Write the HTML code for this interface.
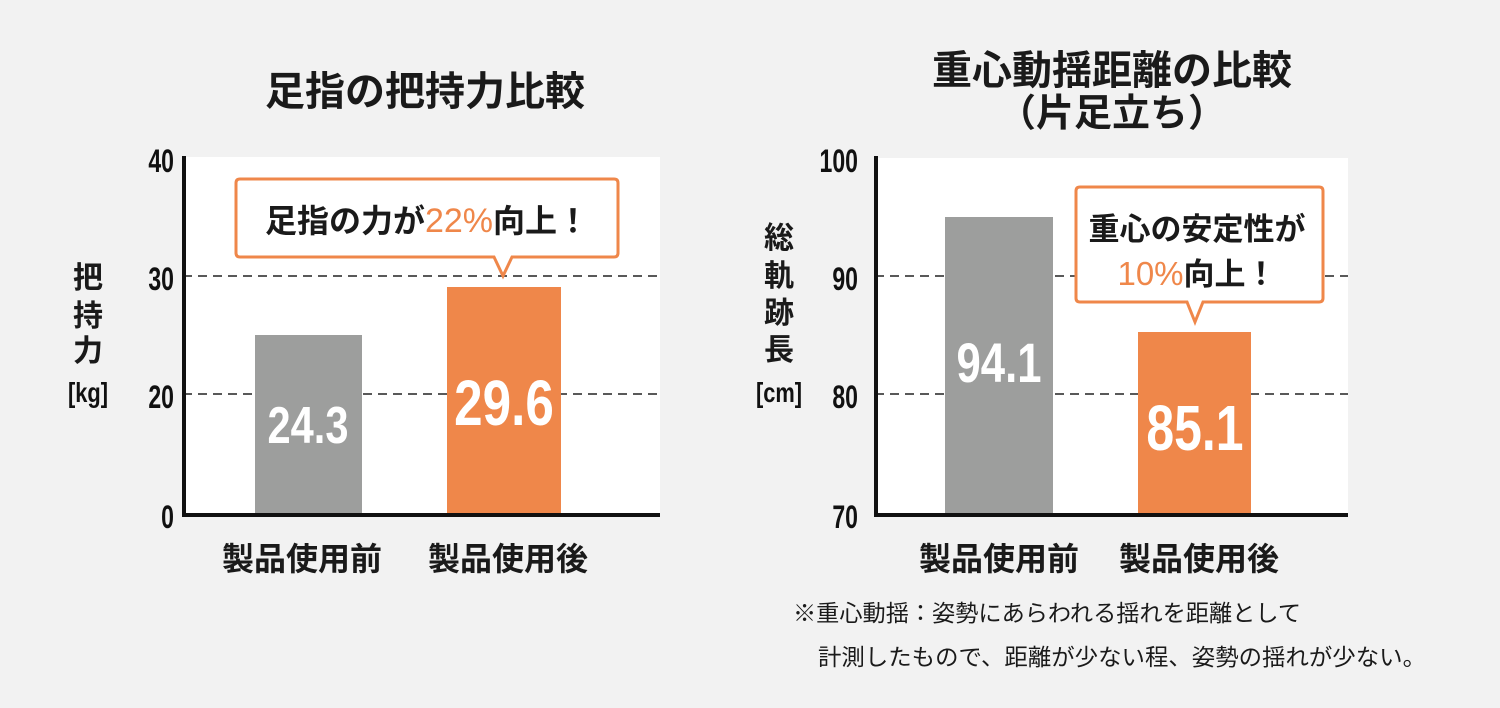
<!DOCTYPE html>
<html><head><meta charset="utf-8"><style>
html,body{margin:0;padding:0;background:#f2f2f2;}
svg{display:block}
.j{font-family:"Liberation Sans","Noto Sans CJK JP",sans-serif;font-weight:bold;fill:#1a1a1a}
.n{font-family:"Liberation Sans Narrow","Liberation Sans",sans-serif;font-weight:bold}
</style></head><body>
<svg width="1500" height="708" viewBox="0 0 1500 708" xmlns="http://www.w3.org/2000/svg">
<rect width="1500" height="708" fill="#f2f2f2"/>
<!-- left chart -->
<text class="j" x="425" y="105" font-size="40" text-anchor="middle">足指の把持力比較</text>
<rect x="183" y="157" width="477" height="358" fill="#fff"/>
<line x1="183" y1="276" x2="660" y2="276" stroke="#222" stroke-width="1.5" stroke-dasharray="9,6"/>
<line x1="183" y1="394" x2="660" y2="394" stroke="#222" stroke-width="1.5" stroke-dasharray="9,6"/>
<rect x="255" y="335" width="107" height="180" fill="#9d9e9d"/>
<rect x="447" y="287" width="114" height="228" fill="#ef874a"/>
<text class="n" x="308" y="443" font-size="52" fill="#fff" text-anchor="middle" transform="translate(308,0) scale(0.8,1) translate(-308,0)">24.3</text>
<text class="n" x="504" y="425" font-size="64" fill="#fff" text-anchor="middle" transform="translate(504,0) scale(0.8,1) translate(-504,0)">29.6</text>
<path d="M240,179 H614 Q618,179 618,183 V253 Q618,257 614,257 H512 L503,276 L494,257 H240 Q236,257 236,253 V183 Q236,179 240,179 Z" fill="#fff" stroke="#ef874a" stroke-width="3"/>
<text class="j" x="427" y="232" font-size="32" text-anchor="middle">足指の力が<tspan fill="#ef874a" font-weight="normal" font-size="34">22%</tspan>向上！</text>
<line x1="184" y1="156" x2="184" y2="517" stroke="#111" stroke-width="4"/>
<line x1="182" y1="515" x2="660" y2="515" stroke="#111" stroke-width="4"/>
<g class="n" font-size="32" fill="#111" text-anchor="end">
<text x="174" y="172" transform="translate(174,0) scale(0.72,1) translate(-174,0)">40</text>
<text x="174" y="290" transform="translate(174,0) scale(0.72,1) translate(-174,0)">30</text>
<text x="174" y="408" transform="translate(174,0) scale(0.72,1) translate(-174,0)">20</text>
<text x="174" y="528" transform="translate(174,0) scale(0.72,1) translate(-174,0)">0</text></g>
<g class="j" font-size="30" text-anchor="middle"><text x="88" y="288">把</text><text x="88" y="326">持</text><text x="88" y="361">力</text></g>
<text class="n" x="88" y="402" font-size="28" fill="#111" text-anchor="middle" transform="translate(88,0) scale(0.78,1) translate(-88,0)">[kg]</text>
<text class="j" x="302" y="570" font-size="32" text-anchor="middle">製品使用前</text>
<text class="j" x="508" y="570" font-size="32" text-anchor="middle">製品使用後</text>
<!-- right chart -->
<text class="j" x="1112" y="84" font-size="40" text-anchor="middle">重心動揺距離の比較</text>
<text class="j" x="1112" y="126" font-size="38" text-anchor="middle">（片足立ち）</text>
<rect x="875" y="158" width="473" height="357" fill="#fff"/>
<line x1="875" y1="276" x2="1348" y2="276" stroke="#222" stroke-width="1.5" stroke-dasharray="9,6"/>
<line x1="875" y1="394" x2="1348" y2="394" stroke="#222" stroke-width="1.5" stroke-dasharray="9,6"/>
<rect x="945" y="217" width="108" height="298" fill="#9d9e9d"/>
<rect x="1138" y="332" width="113" height="183" fill="#ef874a"/>
<text class="n" x="999" y="382" font-size="56" fill="#fff" text-anchor="middle" transform="translate(999,0) scale(0.78,1) translate(-999,0)">94.1</text>
<text class="n" x="1195" y="450" font-size="64" fill="#fff" text-anchor="middle" transform="translate(1195,0) scale(0.78,1) translate(-1195,0)">85.1</text>
<path d="M1080,187 H1319 Q1323,187 1323,191 V298 Q1323,302 1319,302 H1203 L1195,322 L1187,302 H1080 Q1076,302 1076,298 V191 Q1076,187 1080,187 Z" fill="#fff" stroke="#ef874a" stroke-width="3"/>
<text class="j" x="1197" y="240" font-size="31" text-anchor="middle">重心の安定性が</text>
<text class="j" x="1197" y="285" font-size="31" text-anchor="middle"><tspan fill="#ef874a" font-weight="normal" font-size="33">10%</tspan>向上！</text>
<line x1="876" y1="156" x2="876" y2="517" stroke="#111" stroke-width="4"/>
<line x1="874" y1="515" x2="1348" y2="515" stroke="#111" stroke-width="4"/>
<g class="n" font-size="32" fill="#111" text-anchor="end">
<text x="858" y="172" transform="translate(858,0) scale(0.72,1) translate(-858,0)">100</text>
<text x="858" y="290" transform="translate(858,0) scale(0.72,1) translate(-858,0)">90</text>
<text x="858" y="408" transform="translate(858,0) scale(0.72,1) translate(-858,0)">80</text>
<text x="858" y="528" transform="translate(858,0) scale(0.72,1) translate(-858,0)">70</text></g>
<g class="j" font-size="30" text-anchor="middle"><text x="779" y="248">総</text><text x="779" y="286">軌</text><text x="779" y="323">跡</text><text x="779" y="360">長</text></g>
<text class="n" x="779" y="402" font-size="28" fill="#111" text-anchor="middle" transform="translate(779,0) scale(0.78,1) translate(-779,0)">[cm]</text>
<text class="j" x="999" y="570" font-size="32" text-anchor="middle">製品使用前</text>
<text class="j" x="1199" y="570" font-size="32" text-anchor="middle">製品使用後</text>
<g font-family="'Liberation Sans','Noto Sans CJK JP',sans-serif" font-size="23" fill="#1a1a1a">
<text x="793" y="621" textLength="508" lengthAdjust="spacingAndGlyphs">※重心動揺：姿勢にあらわれる揺れを距離として</text>
<text x="818" y="665" textLength="608" lengthAdjust="spacingAndGlyphs">計測したもので、距離が少ない程、姿勢の揺れが少ない。</text></g>
</svg>
</body></html>
